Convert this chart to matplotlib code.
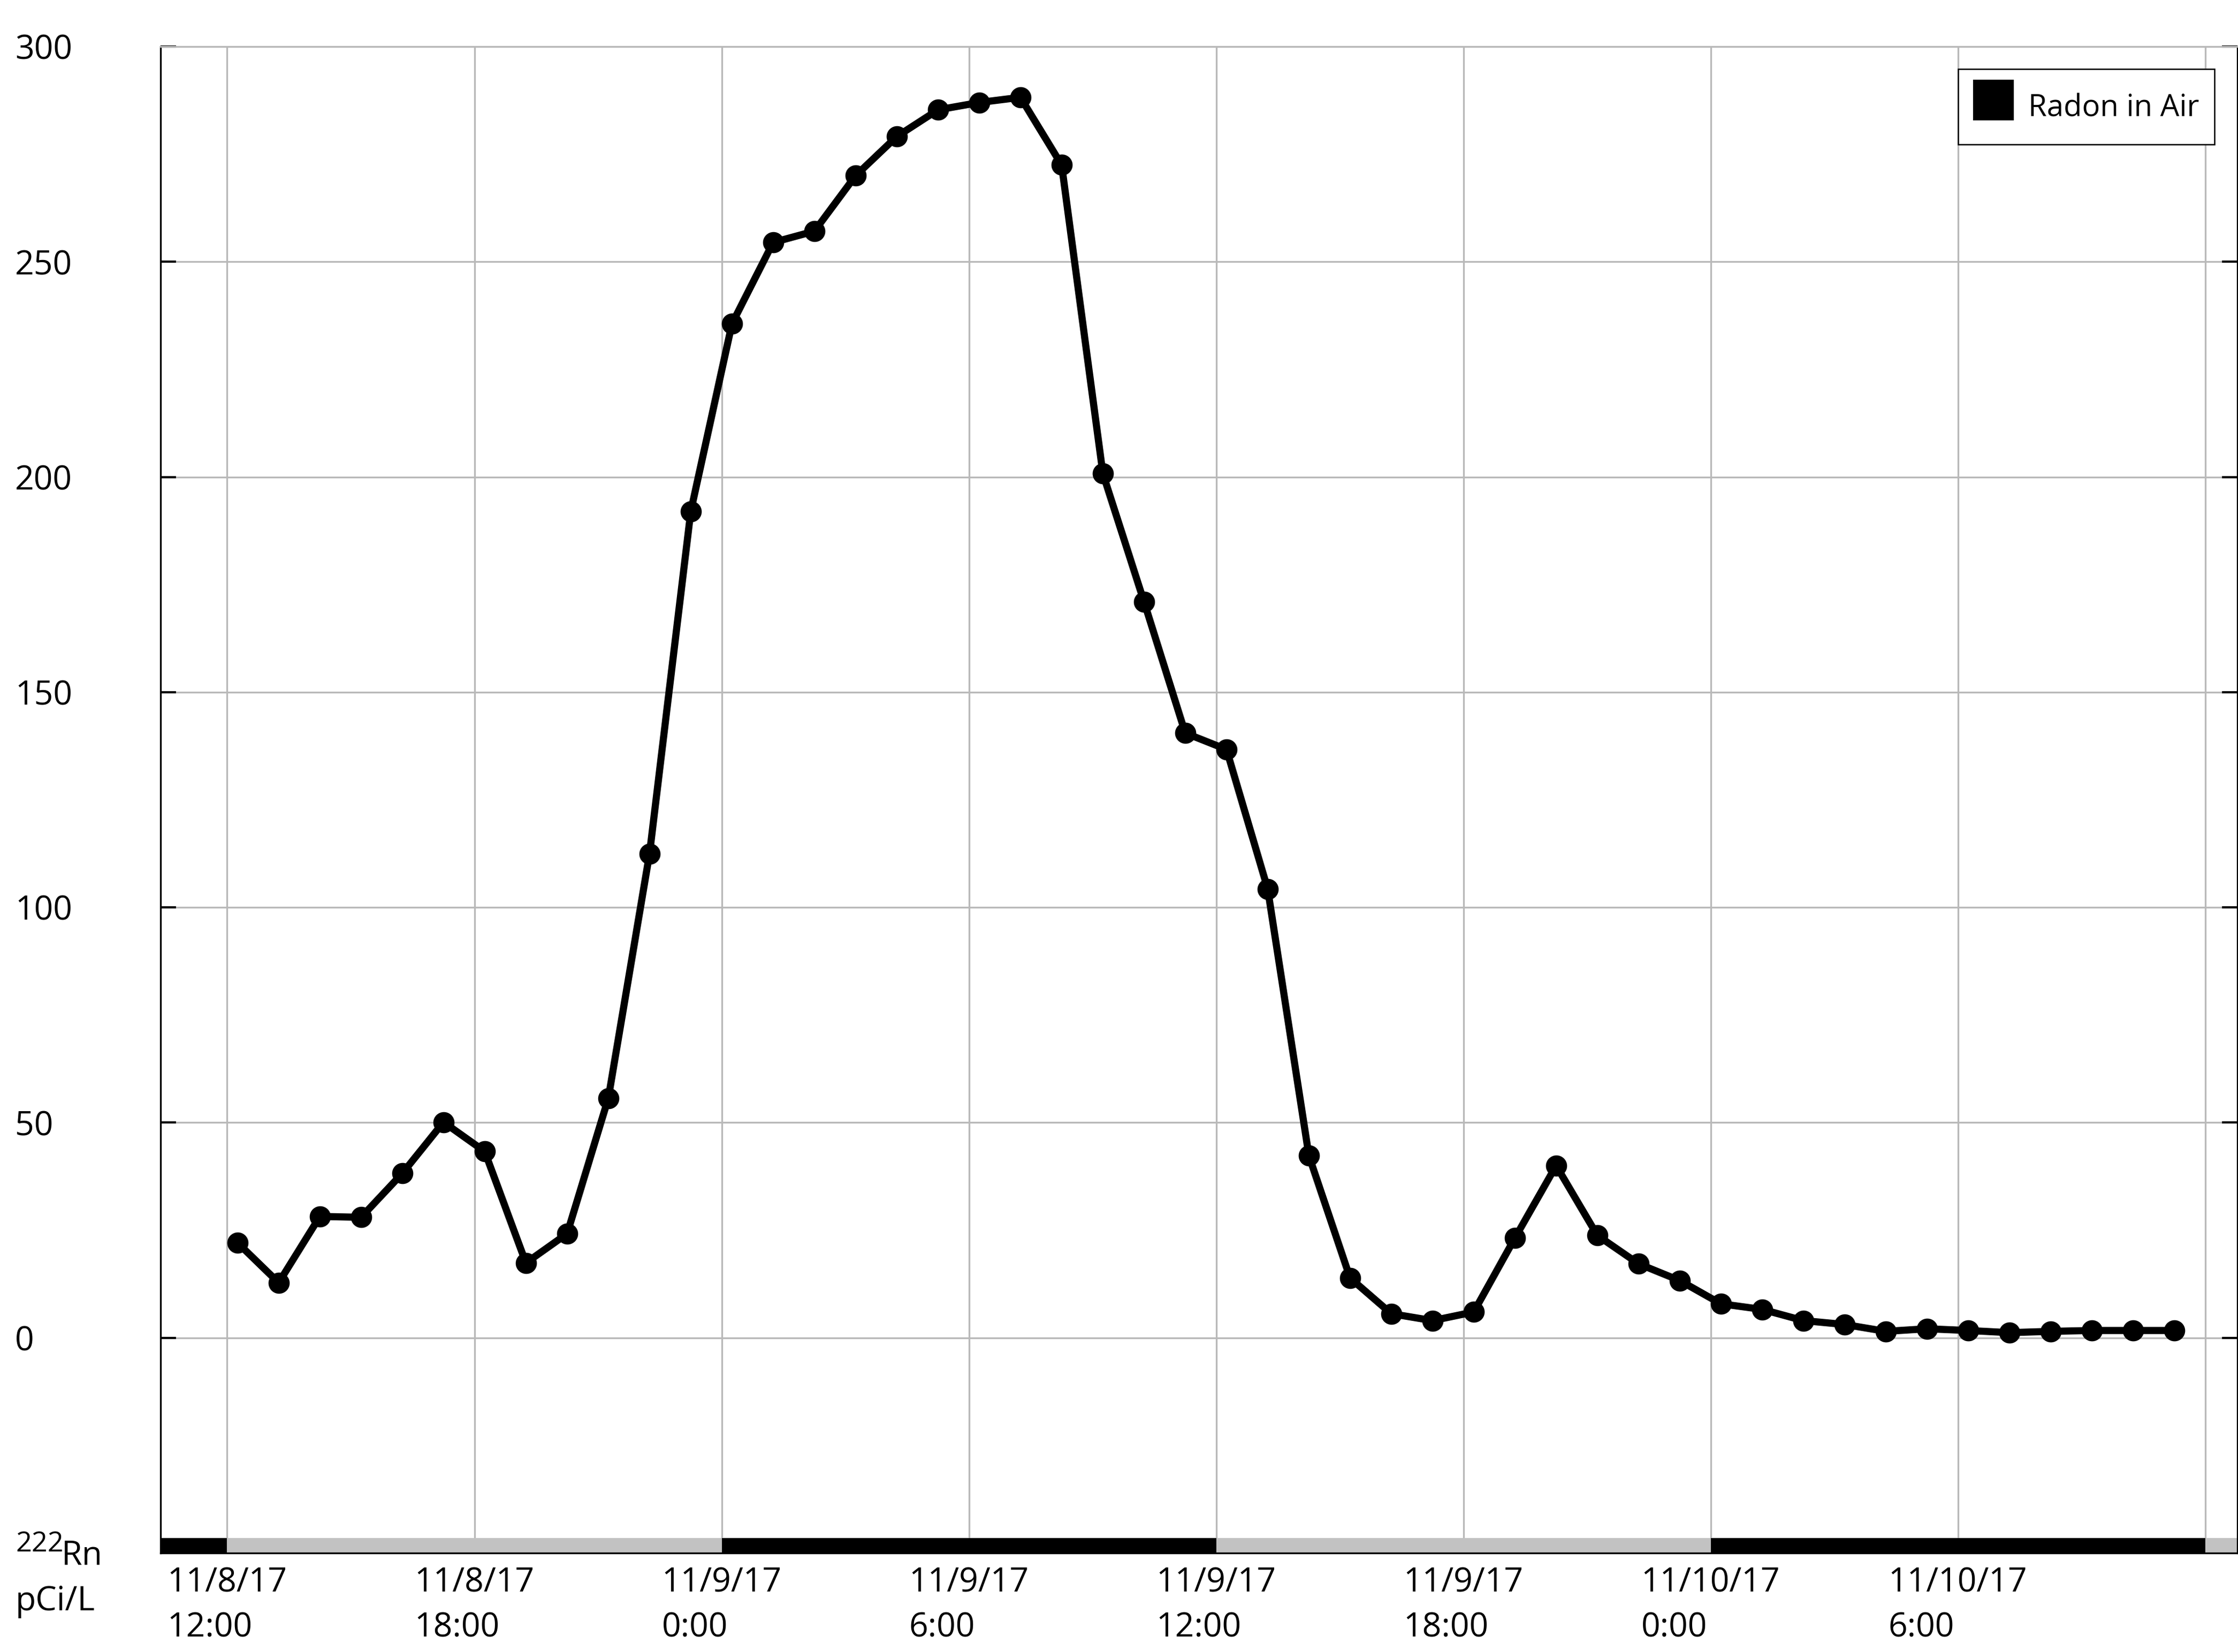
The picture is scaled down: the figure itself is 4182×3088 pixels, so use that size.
import matplotlib
matplotlib.use("Agg")
import matplotlib.pyplot as plt
import matplotlib.dates as mdates
from matplotlib.lines import Line2D
import pandas as pd

plt.rcParams["font.family"] = ["Open Sans", "DejaVu Sans"]

# Hourly radon-in-air readings (pCi/L), starting 11/8/17 12:15
radon = [22.1, 12.8, 28.2, 28.0, 38.2, 50.1, 43.3, 17.4, 24.2, 55.7,
         112.5, 192.0, 235.6, 254.5, 257.1, 270.0, 279.1, 285.3, 287.0, 288.2,
         272.5, 200.8, 171.0, 140.5, 136.7, 104.3, 42.3, 13.9, 5.6, 4.0,
         6.0, 23.2, 40.0, 23.8, 17.2, 13.3, 7.9, 6.6, 4.0, 3.1,
         1.5, 2.1, 1.7, 1.2, 1.5, 1.7, 1.7, 1.7]
times = pd.date_range("2017-11-08 12:15", periods=len(radon), freq="h")

# x-axis ticks and labels
tick_times = pd.date_range("2017-11-08 12:00", "2017-11-10 12:00", freq="6h")
tick_labels = ["11/8/17\n12:00", "11/8/17\n18:00", "11/9/17\n0:00", "11/9/17\n6:00",
               "11/9/17\n12:00", "11/9/17\n18:00", "11/10/17\n0:00", "11/10/17\n6:00", ""]
y_ticks = [0, 50, 100, 150, 200, 250, 300]

x_start = pd.Timestamp("2017-11-08 10:23")
x_end = pd.Timestamp("2017-11-10 12:47")

# alternating 12-hour band along the bottom of the plot
band_edges = [x_start, pd.Timestamp("2017-11-08 12:00"), pd.Timestamp("2017-11-09 00:00"),
              pd.Timestamp("2017-11-09 12:00"), pd.Timestamp("2017-11-10 00:00"),
              pd.Timestamp("2017-11-10 12:00"), x_end]
band_colors = ["black", "#c2c2c2", "black", "#c2c2c2", "black", "#c2c2c2"]

W, H = 4182, 3088
fig = plt.figure(figsize=(W / 300, H / 300), dpi=300)
ax = fig.add_axes([300 / W, 1 - 2903 / H, (4181 - 300) / W, (2903 - 87) / H])

ax.set_xlim(x_start, x_end)
ax.set_ylim(-50, 300)

# grid
ax.set_axisbelow(True)
ax.grid(True, color="#b9b9b9", linewidth=0.8)

# bottom band
for i, c in enumerate(band_colors):
    a = mdates.date2num(band_edges[i])
    b = mdates.date2num(band_edges[i + 1])
    ax.broken_barh([(a, b - a)], (-50, 3.5), facecolors=c, edgecolors="none", zorder=2)

# data
ax.plot(times, radon, color="black", linewidth=3.2, marker="o", markersize=8.5,
        zorder=3, solid_joinstyle="round")

# y axis
ax.set_yticks(y_ticks)
ax.set_yticklabels([str(v) for v in y_ticks])
ax.tick_params(axis="y", direction="in", length=7, width=1, color="black",
               left=True, right=True, pad=65.3, labelsize=15)
for t in ax.get_yticklabels():
    t.set_horizontalalignment("left")

# x axis
ax.set_xticks(tick_times)
ax.set_xticklabels(tick_labels)
ax.tick_params(axis="x", length=0, pad=6, labelsize=15)
for t in ax.get_xticklabels():
    t.set_multialignment("left")
    t.set_linespacing(1.45)

# spines
ax.spines["top"].set_color("#b9b9b9")
ax.spines["top"].set_linewidth(0.8)
for s in ["left", "bottom", "right"]:
    ax.spines[s].set_color("black")
    ax.spines[s].set_linewidth(0.8)

# unit label
fig.text(29 / W, 1 - 2900 / H, "222", fontsize=12.5, ha="left", va="baseline")
fig.text(115 / W, 1 - 2925 / H, "Rn", fontsize=15, ha="left", va="baseline")
fig.text(29 / W, 1 - 3010 / H, "pCi/L", fontsize=15, ha="left", va="baseline")

# legend
handle = Line2D([], [], linestyle="none", marker="s", markersize=17.5,
                markerfacecolor="black", markeredgecolor="black", label="Radon in Air")
leg = ax.legend(handles=[handle],
                loc="upper right", bbox_to_anchor=(4138 / W, 1 - 129 / H),
                bbox_transform=fig.transFigure, frameon=True, fancybox=False,
                fontsize=13.5, handlelength=1.34, handleheight=1.95,
                handletextpad=0.5, borderpad=0.5, borderaxespad=0)
leg.get_frame().set_edgecolor("black")
leg.get_frame().set_linewidth(0.6)
leg.get_frame().set_facecolor("white")
leg.get_frame().set_alpha(1)

fig.savefig("out.png", dpi=300)
